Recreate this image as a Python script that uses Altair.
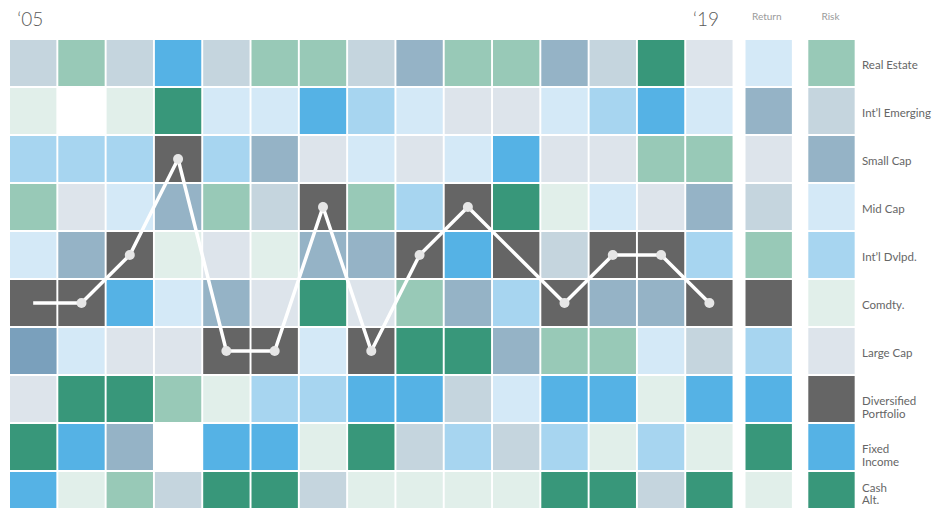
import altair as alt
import pandas as pd

# ---------------- data ----------------
years = list(range(2005, 2020))
asset_codes = ["RE", "EM", "SC", "MC", "ID", "CO", "LC", "DP", "FI", "CA"]
asset_labels = ["Real Estate", "Int’l Emerging", "Small Cap", "Mid Cap", "Int’l Dvlpd.",
                "Comdty.", "Large Cap", "Diversified\nPortfolio", "Fixed\nIncome", "Cash\nAlt."]
asset_colors = ["#98c9b7", "#c5d5de", "#95b3c6", "#d4e9f7", "#a7d5f0",
                "#e1efea", "#dde4eb", "#656565", "#55b2e5", "#38977a"]

# ranking (top to bottom) of the asset classes in each year
order_by_year = [
    ["EM", "CO", "ID", "RE", "MC", "DP", "SC", "LC", "CA", "FI"],  # 2005
    ["RE", "EM", "ID", "LC", "SC", "DP", "MC", "CA", "FI", "CO"],  # 2006
    ["EM", "CO", "ID", "MC", "DP", "FI", "LC", "CA", "SC", "RE"],  # 2007
    ["FI", "CA", "DP", "SC", "CO", "MC", "LC", "RE", "ID", "EM"],  # 2008
    ["EM", "MC", "ID", "RE", "LC", "SC", "DP", "CO", "FI", "CA"],  # 2009
    ["RE", "MC", "SC", "EM", "CO", "LC", "DP", "ID", "FI", "CA"],  # 2010
    ["RE", "FI", "LC", "DP", "SC", "CA", "MC", "ID", "CO", "EM"],  # 2011
    ["EM", "ID", "MC", "RE", "SC", "LC", "DP", "FI", "CA", "CO"],  # 2012
    ["SC", "MC", "LC", "ID", "DP", "RE", "CA", "FI", "EM", "CO"],  # 2013
    ["RE", "LC", "MC", "DP", "FI", "SC", "CA", "EM", "ID", "CO"],  # 2014
    ["RE", "LC", "FI", "CA", "DP", "ID", "SC", "MC", "EM", "CO"],  # 2015
    ["SC", "MC", "LC", "CO", "EM", "DP", "RE", "FI", "ID", "CA"],  # 2016
    ["EM", "ID", "LC", "MC", "DP", "SC", "RE", "FI", "CO", "CA"],  # 2017
    ["CA", "FI", "RE", "LC", "DP", "SC", "MC", "CO", "ID", "EM"],  # 2018
    ["LC", "MC", "RE", "SC", "ID", "DP", "EM", "FI", "CO", "CA"],  # 2019
]
return_order = ["MC", "SC", "LC", "EM", "RE", "DP", "ID", "FI", "CA", "CO"]
risk_order = ["RE", "EM", "SC", "MC", "ID", "CO", "LC", "DP", "FI", "CA"]
hidden_cells = [(2006, "EM"), (2008, "ID")]
emphasized_cells = [(2005, "SC")]
no_marker_years = [2005, 2015]
summary_titles = ["Return", "Risk"]

# ---------------- layout (column / row units) ----------------
PX_X, PX_Y = 48.3, 48.0
W, H = 930, 500
X0 = -2 / PX_X
X1 = X0 + W / PX_X
Y0 = -32 / PX_Y
Y1 = Y0 + H / PX_Y
CELL_W, CELL_H = 0.96, 0.958
RETURN_POS, RISK_POS = 15.228, 16.528
LABEL_POS = 17.64

xs = alt.Scale(domain=[X0, X1], nice=False, zero=False)
ys = alt.Scale(domain=[Y0, Y1], nice=False, zero=False, reverse=True)

cells = []
for i, (yr, order) in enumerate(zip(years, order_by_year)):
    for r, code in enumerate(order):
        cells.append({"col": str(yr), "x": i, "y": r, "code": code,
                      "vis": 0 if (yr, code) in hidden_cells else 1,
                      "emph": 1 if (yr, code) in emphasized_cells else 0})
for pos, name, order in [(RETURN_POS, "Return", return_order), (RISK_POS, "Risk", risk_order)]:
    for r, code in enumerate(order):
        cells.append({"col": name, "x": pos, "y": r, "code": code, "vis": 1, "emph": 0})
cells = pd.DataFrame(cells)
cells["x2"] = cells["x"] + CELL_W
cells["y2"] = cells["y"] + CELL_H

line_df = pd.DataFrame({
    "year": years,
    "x": [i + CELL_W / 2 for i in range(len(years))],
    "y": [order.index("DP") + CELL_H / 2 for order in order_by_year],
})
line_df["marker"] = [0 if y in no_marker_years else 1 for y in years]

year_heads = pd.DataFrame({
    "txt": ["‘" + str(years[0])[2:], "‘" + str(years[-1])[2:]],
    "x": [0 + 0.42, len(years) - 1 + 0.41],
    "y": [-14 / PX_Y, -14 / PX_Y],
})
sum_heads = pd.DataFrame({
    "txt": summary_titles,
    "x": [RETURN_POS + 0.44, RISK_POS + 0.46],
    "y": [-23 / PX_Y, -23 / PX_Y],
})
row_labels = pd.DataFrame({
    "txt": asset_labels,
    "x": [LABEL_POS] * len(asset_labels),
    "y": [risk_order.index(c) + CELL_H / 2 for c in asset_codes],
    "row": [risk_order.index(c) for c in asset_codes],
})
last_row = len(risk_order) - 1

enc = dict(x=alt.X("x:Q", scale=xs, axis=None), y=alt.Y("y:Q", scale=ys, axis=None))

rects = alt.Chart(cells).mark_rect().encode(
    x2="x2:Q", y2="y2:Q",
    color=alt.Color("code:N", scale=alt.Scale(domain=asset_codes, range=asset_colors), legend=None),
    opacity=alt.Opacity("vis:Q", scale=alt.Scale(domain=[0, 1], range=[0, 1]), legend=None),
    **enc,
)
emph = alt.Chart(cells).transform_filter("datum.emph == 1").mark_rect(color="#7aa0bc").encode(
    x2="x2:Q", y2="y2:Q", **enc)

line = alt.Chart(line_df).mark_line(color="white", strokeWidth=3.5).encode(order="year:O", **enc)
dots = alt.Chart(line_df).transform_filter("datum.marker == 1").mark_circle(
    color="#e6e6e6", size=100, opacity=1).encode(**enc)

yh = alt.Chart(year_heads).mark_text(font="Lato", fontSize=19, fontWeight=300, color="#5a5a5a",
                                     align="center", baseline="alphabetic").encode(text="txt:N", **enc)
sh = alt.Chart(sum_heads).mark_text(font="Lato", fontSize=10, color="#9a9a9a",
                                    align="center", baseline="middle").encode(text="txt:N", **enc)
label_style = dict(font="Lato", fontSize=11.5, color="#666666", align="left",
                   baseline="top", lineBreak="\n")
rl = alt.Chart(row_labels).transform_filter(f"datum.row < {last_row}").mark_text(
    dy=-3, lineHeight=12.7, **label_style).encode(text="txt:N", **enc)
rl_last = alt.Chart(row_labels).transform_filter(f"datum.row == {last_row}").mark_text(
    dy=-12, lineHeight=12, **label_style).encode(text="txt:N", **enc)

chart = alt.layer(rects, emph, line, dots, yh, sh, rl, rl_last).properties(
    width=W, height=H, padding=0, autosize=alt.AutoSizeParams(type="none"),
    background="white",
).configure_view(stroke=None)

chart.save("out.html", embed_options={"renderer": "svg", "actions": False})
